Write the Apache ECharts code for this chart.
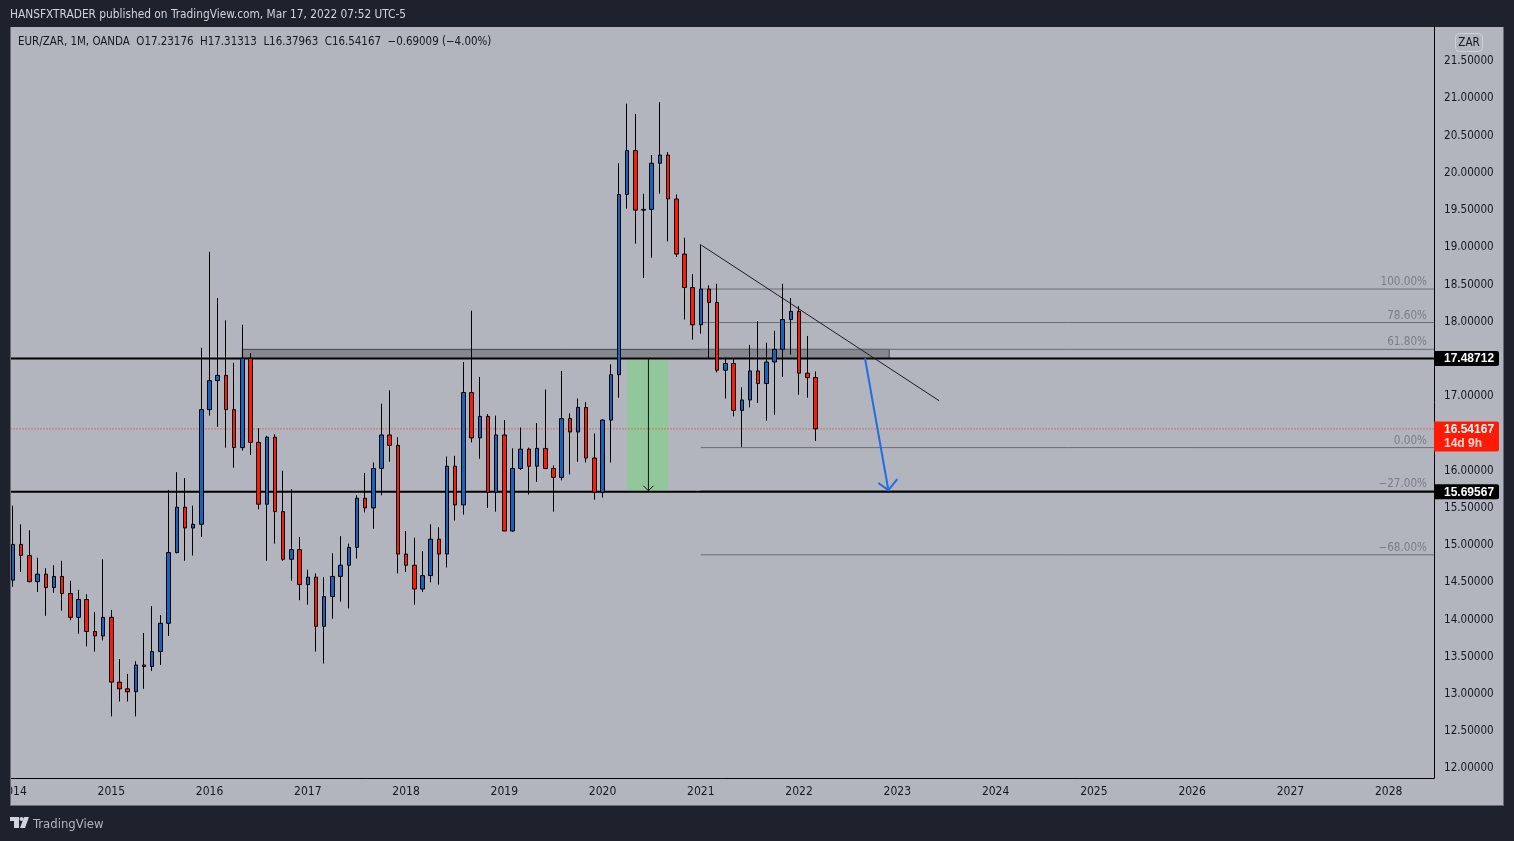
<!DOCTYPE html>
<html><head><meta charset="utf-8">
<style>html,body{margin:0;padding:0;background:#1e222d}#c{width:1514px;height:841px}</style>
<script src="https://cdn.jsdelivr.net/npm/echarts@6/dist/echarts.min.js"></script>
</head><body><div id="c"></div>
<script>
const FONT = '"DejaVu Sans Condensed", "Liberation Sans", sans-serif';
const TAGFONT = 'bold 12px "Liberation Sans", sans-serif';
const years = ['2014','2015','2016','2017','2018','2019','2020','2021','2022','2023','2024','2025','2026','2027','2028'];
const yTicks = [12,12.5,13,13.5,14,14.5,15,15.5,16,16.5,17,17.5,18,18.5,19,19.5,20,20.5,21,21.5];
const opens = [14.51,14.99,14.84,14.49,14.59,14.41,14.56,14.33,14.01,14.25,13.82,13.76,14.01,13.14,13.05,13.01,13.37,13.35,13.55,13.93,14.88,15.49,15.21,15.26,16.80,17.19,17.26,16.80,16.29,17.49,16.36,15.53,16.43,15.43,14.79,14.92,14.45,14.55,13.89,14.29,14.56,14.71,14.95,15.61,15.48,16.01,16.46,16.32,14.86,14.71,14.39,14.57,15.06,14.86,16.04,15.52,17.03,16.42,16.71,15.69,16.46,15.17,16.01,16.27,16.04,16.28,16.01,15.89,16.68,16.50,16.83,16.15,15.69,16.66,17.27,19.69,20.28,19.48,19.49,20.11,20.22,19.63,18.89,18.44,17.94,18.42,18.24,17.33,17.42,16.79,16.93,17.32,17.15,17.44,17.61,18.01,18.12,17.29,17.23176];
const closes = [14.99,14.84,14.49,14.59,14.41,14.56,14.33,14.01,14.25,13.82,13.76,14.01,13.14,13.05,13.01,13.37,13.35,13.55,13.93,14.88,15.49,15.21,15.26,16.80,17.19,17.26,16.80,16.29,17.49,16.36,15.53,16.43,15.43,14.79,14.92,14.45,14.55,13.89,14.29,14.56,14.71,14.95,15.61,15.48,16.01,16.46,16.32,14.86,14.71,14.39,14.57,15.06,14.86,16.04,15.52,17.03,16.42,16.71,15.69,16.46,15.17,16.01,16.27,16.04,16.28,16.01,15.89,16.68,16.50,16.83,16.15,15.69,16.66,17.27,19.69,20.28,19.48,19.49,20.11,20.22,19.63,18.89,18.44,17.94,18.42,18.24,17.33,17.42,16.79,16.93,17.32,17.15,17.44,17.61,18.01,18.12,17.29,17.23,16.54167];
const lows = [14.42,14.62,14.48,14.35,14.03,14.34,14.10,13.97,13.79,13.62,13.55,13.70,12.68,12.88,12.88,12.68,13.05,13.29,13.37,13.76,14.87,14.77,14.84,15.09,16.72,16.57,16.29,16.02,16.25,16.19,15.46,14.77,15.00,14.77,14.50,14.24,14.18,13.55,13.39,13.99,14.22,14.13,14.80,15.42,15.20,15.65,16.10,14.60,14.62,14.18,14.35,14.48,14.45,14.68,15.31,15.39,16.36,16.14,15.48,15.43,15.17,15.16,15.99,15.66,15.83,16.00,15.43,15.85,15.93,16.10,16.09,15.59,15.62,16.09,16.96,19.50,19.03,18.57,18.84,19.70,19.06,18.85,18.01,17.74,17.82,17.49,17.30,16.95,16.71,16.30,16.83,16.89,16.65,16.73,17.24,17.54,17.00,16.96,16.37963];
const highs = [15.51,15.26,15.18,14.81,14.67,14.71,14.77,14.50,14.38,14.32,14.08,14.79,14.11,13.45,13.25,13.42,13.80,14.16,14.04,15.72,15.96,15.88,15.51,17.63,18.92,18.30,18.00,17.43,17.94,17.56,16.55,16.45,16.47,15.98,15.73,15.09,14.65,14.60,14.55,14.87,15.10,15.00,15.65,15.95,16.09,16.88,17.06,16.43,15.17,15.08,14.90,15.26,15.22,16.17,16.18,17.44,18.13,17.24,16.74,16.72,16.66,16.28,16.56,16.29,16.62,17.07,16.05,17.32,16.75,16.95,16.90,16.48,16.67,17.41,20.11,20.91,20.77,19.70,20.22,20.93,20.26,19.69,19.11,18.62,19.02,18.47,18.49,17.50,17.48,17.10,17.67,17.99,17.70,17.86,18.49,18.30,18.19,17.79,17.31313];

const supportLevels = [17.48712, 15.69567];
const lastPrice = 16.54167;
const fibValues = [18.42, 17.97, 17.61, 16.29, 15.71, 14.85];
const fibLabels = ['100.00%', '78.60%', '61.80%', '0.00%', '\u221227.00%', '\u221268.00%'];
const fibStartIndex = 84;
const zoneX = [28, 107];
const zoneY = [17.61, 17.48712];
const boxX = [75, 80];
const boxY = [17.48712, 15.71];
const measureX = 77.6;
const trendX = [84.06, 113.1];
const trendY = [19.01, 16.92];
const blueX = [104.05, 106.9];
const blueY = [17.49, 15.72];

const xMin = -0.31, xMax = 173.54, yMin = 11.852, yMax = 21.94;
const candles = opens.map((o, i) => [i, o, closes[i], lows[i], highs[i]]);
const panel = '#b2b5be', ink = '#131722', page = '#1e222d';

function annotations(params, api) {
  const c = (x, y) => api.coord([x, y]);
  const seg = (a, b, stroke, lw, extra) => ({type:'line', silent:true, shape:{x1:a[0],y1:a[1],x2:b[0],y2:b[1]}, style:Object.assign({stroke, lineWidth:lw, fill:null}, extra||{})});
  const rect = (a, b, fill) => ({type:'rect', silent:true, shape:{x:a[0],y:a[1],width:b[0]-a[0],height:b[1]-a[1]}, style:{fill}});
  const poly = (pts, stroke, lw) => ({type:'polyline', silent:true, shape:{points:pts}, style:{stroke, lineWidth:lw, fill:null}});
  const txt = (x, y, text, fill, align, font) => ({type:'text', silent:true, x, y, style:{text, fill, align:align||'left', verticalAlign:'middle', font:font||('11.6px '+FONT)}});
  const kids = [];
  kids.push(rect(c(boxX[0], boxY[0]), c(boxX[1], boxY[1]), '#92c69b'));
  const zA = c(zoneX[0], zoneY[0]), zB = c(zoneX[1], zoneY[1]);
  kids.push(rect(zA, zB, '#86888f'));
  kids.push(seg(zA, [zB[0], zA[1]], '#45474f', 1));
  kids.push(seg([zB[0], zA[1]], zB, '#45474f', 1));
  kids.push(seg(zA, [zA[0], zB[1]], '#45474f', 1));
  kids.push(seg(c(xMin, lastPrice), c(xMax, lastPrice), '#e8302a', 1, {lineDash:[1,2]}));
  fibValues.forEach((v, i) => {
    const a = c(fibStartIndex, v), b = c(xMax, v);
    kids.push(seg(a, b, '#6b6d74', 1));
    kids.push(txt(b[0]-7, b[1]-7, fibLabels[i], '#7b7d84', 'right'));
  });
  supportLevels.forEach(v => kids.push(seg(c(xMin, v), c(xMax, v), '#000', 2)));
  const mA = c(measureX, boxY[0]), mB = c(measureX, boxY[1]);
  kids.push(seg(mA, mB, '#111', 1));
  kids.push(poly([[mB[0]-5,mB[1]-5],mB,[mB[0]+5,mB[1]-5]], '#111', 1));
  kids.push(seg(c(trendX[0],trendY[0]), c(trendX[1],trendY[1]), '#1c1c22', 1));
  const bA = c(blueX[0],blueY[0]), bB = c(blueX[1],blueY[1]);
  kids.push(seg(bA, bB, '#1f6fe0', 2));
  kids.push(poly([[bB[0]-10,bB[1]-7],bB,[bB[0]+9,bB[1]-11]], '#1f6fe0', 2));
  const tag = (v, lines, fill) => {
    const p = c(xMax, v), h = lines.length > 1 ? 30 : 15, top = p[1] - 7.5;
    kids.push({type:'rect', silent:true, shape:{x:p[0],y:top,width:65,height:h,r:[0,2,2,0]}, style:{fill}});
    lines.forEach((s, i) => kids.push(txt(p[0]+10, top+8+i*14.5, s, i ? '#ffd9d4' : '#fff', 'left', TAGFONT)));
  };
  tag(supportLevels[0], ['17.48712'], '#000');
  tag(supportLevels[1], ['15.69567'], '#000');
  tag(lastPrice, ['16.54167','14d 9h'], '#ff1a06');
  return {type:'group', children:kids};
}

const chart = echarts.init(document.getElementById('c'), null, {renderer:'canvas', width:1514, height:841});
chart.setOption({
  animation:false,
  backgroundColor: page,
  textStyle:{fontFamily:FONT},
  grid:{left:10.5, right:80, top:27, height:751, show:false, outerBoundsMode:'none'},
  xAxis:{type:'value', min:xMin, max:xMax, splitLine:{show:false}, axisTick:{show:false},
    axisLine:{show:true, onZero:false, lineStyle:{color:'#000', width:1}},
    axisLabel:{customValues:years.map((y,i)=>i*12), color:ink, fontSize:12, margin:8, fontFamily:FONT,
      formatter:v=>years[Math.round(v/12)]}},
  yAxis:{type:'value', position:'right', min:yMin, max:yMax, splitLine:{show:false}, axisTick:{show:false},
    axisLine:{show:true, onZero:false, lineStyle:{color:'#000', width:1}},
    axisLabel:{customValues:yTicks, color:ink, fontSize:11.6, margin:10, fontFamily:FONT,
      formatter:v=>'{v|'+v.toFixed(5)+'}',
      rich:{v:{color:ink, fontSize:11.6, fontFamily:FONT, padding:[3,0,0,0]}}}},
  series:[
    {type:'custom', z:1, clip:false, silent:true, coordinateSystem:'cartesian2d', data:[[0,lastPrice]], encode:{x:0,y:1}, renderItem:annotations},
    {type:'candlestick', z:3, clip:true, silent:true, barWidth:4, data:candles,
      itemStyle:{color:'#1565c0', color0:'#ff1a06', borderColor:'#000', borderColor0:'#000', borderColorDoji:'#000', borderWidth:1}}
  ],
  graphic:[
    {type:'rect', z:-10, silent:true, shape:{x:10,y:27,width:1494,height:778}, style:{fill:panel}},
    {type:'rect', z:100, silent:true, shape:{x:0,y:779,width:10,height:27}, style:{fill:page}},
    {type:'rect', z:100, silent:true, shape:{x:10,y:27,width:1,height:778}, style:{fill:'#6a6d78'}},
    {type:'rect', z:100, silent:true, shape:{x:1503,y:27,width:1,height:778}, style:{fill:'#6a6d78'}},
    {type:'rect', z:100, silent:true, shape:{x:10,y:805,width:1494,height:1}, style:{fill:'#6a6d78'}},
    {type:'text', z:100, silent:true, x:10, y:15, style:{text:'HANSFXTRADER published on TradingView.com, Mar 17, 2022 07:52 UTC-5', fill:'#d1d4dc', font:'11.8px '+FONT, verticalAlign:'middle'}},
    {type:'text', z:100, silent:true, x:18, y:42, style:{text:'EUR/ZAR, 1M, OANDA  O17.23176  H17.31313  L16.37963  C16.54167  \u22120.69009 (\u22124.00%)', fill:ink, font:'11.45px '+FONT, verticalAlign:'middle'}},
    {type:'rect', z:100, silent:true, shape:{x:1455.5,y:33.5,width:27,height:18,r:4}, style:{fill:panel, stroke:'#d0d2d8', lineWidth:1}},
    {type:'text', z:101, silent:true, x:1469, y:43, style:{text:'ZAR', fill:ink, font:'11.6px '+FONT, align:'center', verticalAlign:'middle'}},
    {type:'polygon', z:100, silent:true, shape:{points:[[10,817],[19,817],[19,828],[14,828],[14,821],[10,821]]}, style:{fill:'#d1d4dc'}},
    {type:'circle', z:100, silent:true, shape:{cx:21.5,cy:819,r:2}, style:{fill:'#d1d4dc'}},
    {type:'polygon', z:100, silent:true, shape:{points:[[24,817],[29,817],[25,828],[20,828]]}, style:{fill:'#d1d4dc'}},
    {type:'text', z:100, silent:true, x:33, y:825, style:{text:'TradingView', fill:'#b2b5be', font:'13px '+FONT, verticalAlign:'middle'}}
  ]
});
</script></body></html>
